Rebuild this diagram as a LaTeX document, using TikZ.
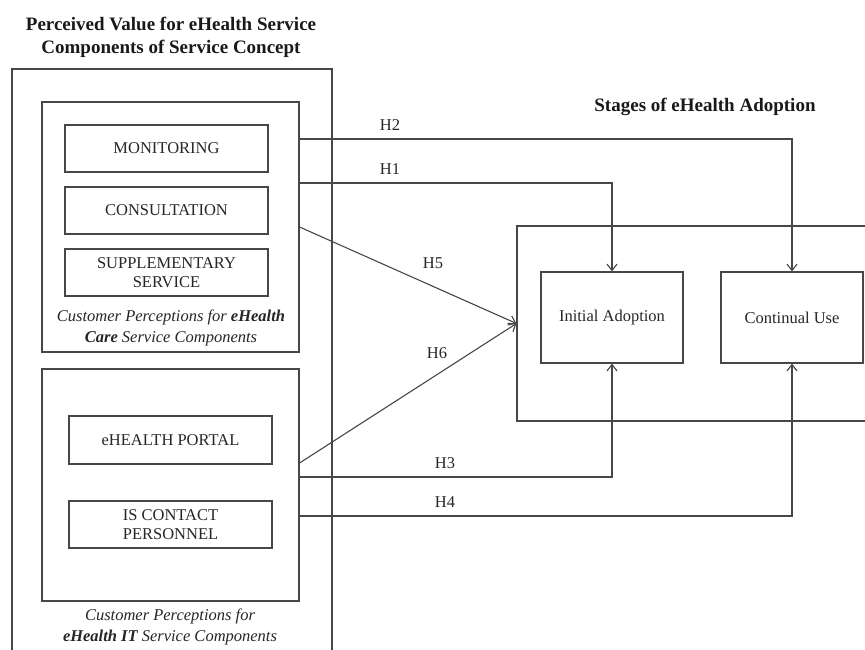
\documentclass[tikz,border=0pt]{standalone}
\usepackage{fontspec}
\setmainfont{Liberation Serif}
\usetikzlibrary{arrows.meta}
\begin{document}
\begin{tikzpicture}[x=1pt,y=-1pt,
  every node/.style={font=\fontsize{16.5}{20}\selectfont, text=black!85},
  box/.style={draw=black!72, line width=1.1pt, inner sep=0pt, align=center},
  heading/.style={font=\fontsize{19}{23}\selectfont\bfseries, text=black!90, align=center},
  caption/.style={font=\fontsize{16.5}{21}\selectfont\itshape, align=center},
  hlabel/.style={font=\fontsize{16.5}{20}\selectfont},
  conn/.style={draw=black!72, line width=1.1pt},
  arr/.style={conn, -{Straight Barb[length=6.5pt,width=10pt,line width=1.1pt]}}
]
\useasboundingbox (0,0) rectangle (865,650);
\clip (0,0) rectangle (865,650);
% headings
\node[heading] (title) at (171,37.5) {Perceived Value for eHealth Service\\Components of Service Concept};
\node[heading] (stagestitle) at (705,107) {Stages of eHealth Adoption};
% left side
\node[box, minimum width=320, minimum height=611] (outer) at (172,374.5) {};
\node[box, minimum width=257, minimum height=250] (care) at (170.5,227) {};
\node[box, minimum width=203, minimum height=47] (mon) at (166.5,148.5) {MONITORING};
\node[box, minimum width=203, minimum height=47] (cons) at (166.5,210.5) {CONSULTATION};
\node[box, minimum width=203, minimum height=47] (supp) at (166.5,272.5) {SUPPLEMENTARY\\[-1pt]SERVICE};
\node[caption] (carecap) at (171,327.5) {Customer Perceptions for \textbf{eHealth}\\\textbf{Care} Service Components};
\node[box, minimum width=257, minimum height=232] (it) at (170.5,485) {};
\node[box, minimum width=203, minimum height=48] (portal) at (170.5,440) {eHEALTH PORTAL};
\node[box, minimum width=203, minimum height=47] (iscp) at (170.5,524.5) {IS CONTACT\\[-1pt]PERSONNEL};
\node[caption] (itcap) at (170,627) {Customer Perceptions for\\\textbf{eHealth IT} Service Components};
% right side
\node[box, minimum width=363, minimum height=195] (stages) at (698.5,323.5) {};
\node[box, minimum width=142, minimum height=91] (ia) at (612,317.5) {Initial Adoption};
\node[box, minimum width=142, minimum height=91] (cu) at (792,317.5) {Continual Use};
% connectors
\draw[arr] (care.east |- {(0,139)}) -| (cu.north);
\draw[arr] (care.east |- {(0,183)}) -| (ia.north);
\draw[arr] (care.east |- {(0,227)}) -- (stages.west);
\draw[arr] (it.east |- {(0,463)}) -- (stages.west);
\draw[arr] (it.east |- {(0,477)}) -| (ia.south);
\draw[arr] (it.east |- {(0,516)}) -| (cu.south);
% labels
\node[hlabel] (h2) at (390,125) {H2};
\node[hlabel] (h1) at (390,169) {H1};
\node[hlabel] (h5) at (433,263) {H5};
\node[hlabel] (h6) at (437,353) {H6};
\node[hlabel] (h3) at (445,463) {H3};
\node[hlabel] (h4) at (445,502) {H4};
\end{tikzpicture}
\end{document}
